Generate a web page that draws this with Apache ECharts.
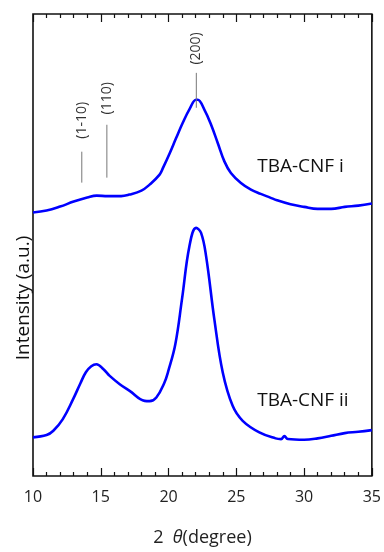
<!DOCTYPE html>
<html>
<head>
<meta charset="utf-8">
<script src="https://cdn.jsdelivr.net/npm/echarts@6/dist/echarts.min.js"></script>
<style>
html,body{margin:0;padding:0;background:#fff;}
#chart{width:384px;height:552px;}
</style>
</head>
<body>
<div id="chart"></div>
<script>
// 2θ (degree) positions and intensities (a.u.)
const theta_i = [10, 11, 12, 13, 14, 14.7, 15.5, 16.5, 17.1, 18, 18.6, 19.34, 19.6, 20.07, 20.56, 21.05, 21.54, 22.03, 22.15, 22.65, 23.14, 23.63, 24.12, 24.6, 25.34, 26.08, 26.8, 27.5, 28, 29, 30, 31, 32, 33, 34, 35];
const inten_i = [264, 266, 270, 275, 279, 281, 280.5, 280.5, 282, 286, 292, 302, 309, 323, 338.7, 354, 367.5, 377, 377, 367, 352, 333.7, 315.3, 303.7, 293.7, 287, 282.7, 279, 276.3, 272.3, 269.7, 267.7, 267.7, 269.7, 271, 273];

const theta_ii = [10, 11, 11.5, 12.2, 12.96, 13.5, 13.9, 14.3, 14.68, 15.2, 15.66, 16.4, 17.13, 18.24, 18.6, 19.1, 19.7, 20.0, 20.5, 21.0, 21.54, 22.03, 22.4, 22.77, 23.38, 24, 24.73, 25.47, 26.7, 27.9, 28.3, 28.55, 28.8, 30, 31, 32, 33, 34, 35];
const inten_ii = [38.7, 41, 45.3, 57, 77, 93, 104, 110, 112, 107, 100.3, 92, 85.3, 75.3, 75, 78.7, 93.7, 106, 132, 178, 230.3, 248.7, 243.7, 220.3, 157, 103.7, 70.3, 55.3, 43.7, 37.7, 37, 40, 37, 36.3, 37.7, 40.3, 43, 44.3, 46];

const xTicks = [10, 15, 20, 25, 30, 35];

// peak assignments
const peakLabels = ['(1-10)', '(110)', '(200)'];
const peakTheta = [13.6, 15.45, 22.05];
const peakLineFrom = [294, 299, 369];
const peakLineTo = [325, 352, 404];
const peakTextAt = [356.5, 378.5, 428.5];

const sampleNames = ['TBA-CNF i', 'TBA-CNF ii'];
const sampleTheta = [26.54, 26.54];
const sampleInten = [310, 75.3];

const FONT = '"Open Sans", "Noto Sans", sans-serif';

const chart = echarts.init(document.getElementById('chart'));
const zip = (a, b) => a.map((v, i) => [v, b[i]]);

const tickCommon = {
  min: xTicks[0], max: xTicks[xTicks.length - 1], interval: 5, type: 'value',
  axisLine: {show: false},
  axisTick: {show: true, inside: true, length: 8, lineStyle: {color: '#111', width: 1.2}},
  minorTick: {show: true, splitNumber: 5, length: 4, lineStyle: {color: '#111', width: 1.2}},
  splitLine: {show: false}, minorSplitLine: {show: false}
};

chart.setOption({
  animation: false,
  backgroundColor: '#fff',
  grid: {left: 33, right: 11, top: 14, bottom: 75, show: true, borderColor: '#111', borderWidth: 1.6, backgroundColor: 'transparent'},
  xAxis: [
    Object.assign({}, tickCommon, {
      position: 'bottom',
      axisLabel: {show: true, fontSize: 16, color: '#222', fontFamily: FONT, margin: 13,
        formatter: v => xTicks.includes(v) ? String(v) : ''},
      name: '{a|2  }{b|θ}{a|(degree)}',
      nameLocation: 'middle', nameGap: 53,
      nameTextStyle: {
        rich: {
          a: {fontSize: 18, color: '#222', fontFamily: FONT},
          b: {fontSize: 18, color: '#222', fontFamily: FONT, fontStyle: 'italic'}
        }
      }
    }),
    Object.assign({}, tickCommon, {position: 'top', axisLabel: {show: false}})
  ],
  yAxis: [{
    type: 'value', min: 0, max: 463,
    axisLine: {show: false}, axisTick: {show: false}, axisLabel: {show: false}, splitLine: {show: false}
  }],
  series: [
    {name: sampleNames[0], type: 'line', data: zip(theta_i, inten_i), showSymbol: false, smooth: 0.4,
      lineStyle: {color: '#0000ff', width: 2.6}, itemStyle: {color: '#0000ff'}},
    {name: sampleNames[1], type: 'line', data: zip(theta_ii, inten_ii), showSymbol: false, smooth: 0.4,
      lineStyle: {color: '#0000ff', width: 2.6}, itemStyle: {color: '#0000ff'}}
  ]
});

const px = (x, y) => chart.convertToPixel({gridIndex: 0}, [x, y]);
const graphics = [];
peakLabels.forEach((lab, i) => {
  const a = px(peakTheta[i], peakLineFrom[i]);
  const b = px(peakTheta[i], peakLineTo[i]);
  const t = px(peakTheta[i], peakTextAt[i]);
  graphics.push({type: 'line', shape: {x1: a[0], y1: a[1], x2: b[0], y2: b[1]},
    style: {stroke: '#777', lineWidth: 1}, z: 5});
  graphics.push({type: 'text', x: t[0], y: t[1], rotation: Math.PI / 2,
    style: {text: lab, fill: '#333', font: '14px ' + FONT, textAlign: 'center', textVerticalAlign: 'middle'}, z: 5});
});
sampleNames.forEach((nm, i) => {
  const p = px(sampleTheta[i], sampleInten[i]);
  graphics.push({type: 'text', x: p[0], y: p[1],
    style: {text: nm, fill: '#111', font: '19px ' + FONT, textAlign: 'left', textVerticalAlign: 'middle'}, z: 5});
});
graphics.push({type: 'text', x: 24, y: 298, rotation: Math.PI / 2,
  style: {text: 'Intensity (a.u.)', fill: '#111', font: '19px ' + FONT, textAlign: 'center', textVerticalAlign: 'middle'}});
chart.setOption({graphic: graphics});
</script>
</body>
</html>
